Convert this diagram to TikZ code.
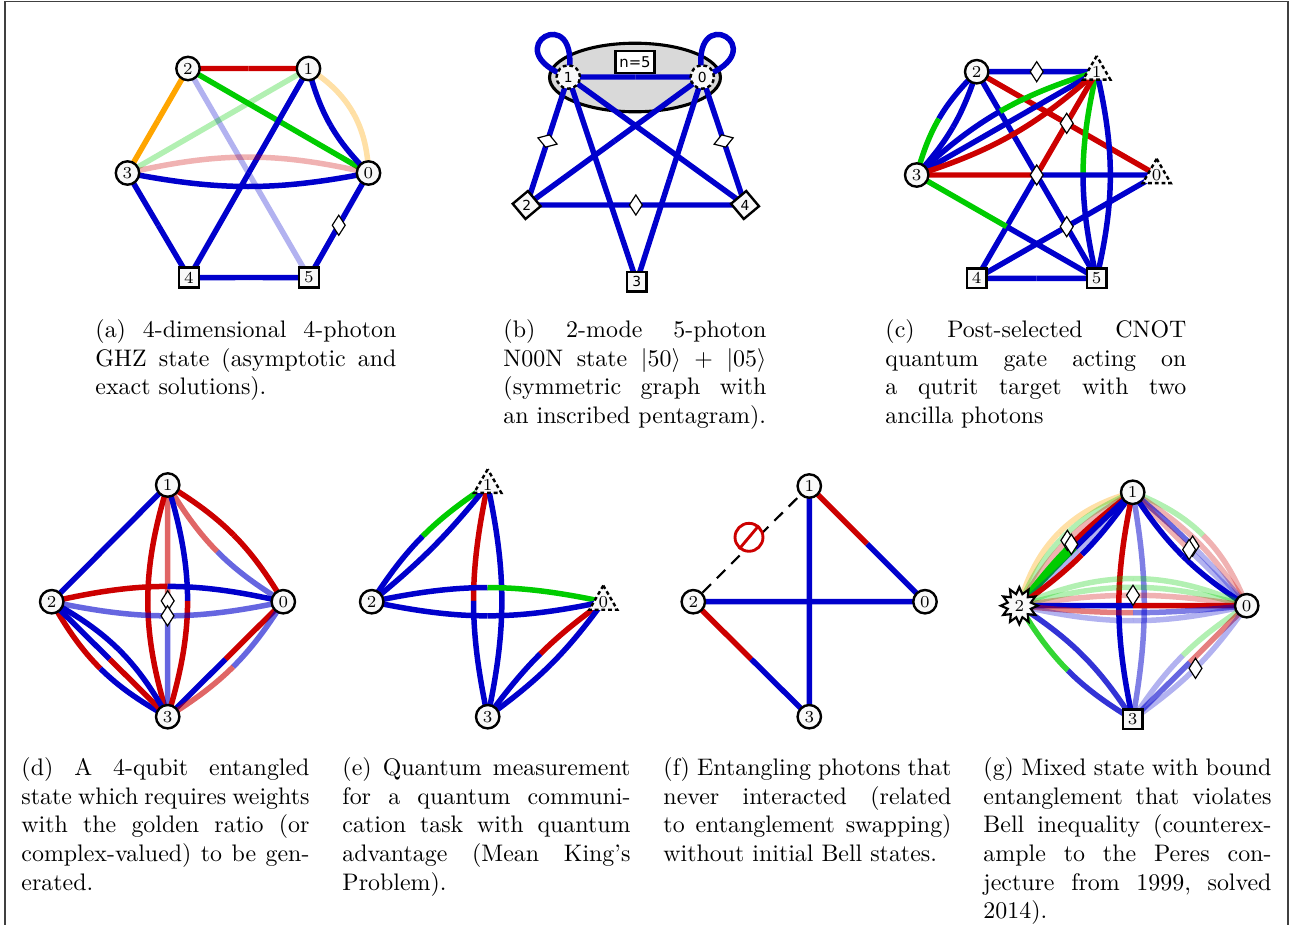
\documentclass[tikz,border=0pt]{standalone}
\usepackage{fontspec}
\newfontfamily\dejavu{DejaVu Sans}
\usetikzlibrary{shapes.geometric,calc}
\definecolor{cB}{RGB}{0,0,204}
\definecolor{cR}{RGB}{204,0,0}
\definecolor{cG}{RGB}{0,204,0}
\definecolor{cO}{RGB}{255,165,0}
\definecolor{nfill}{RGB}{249,249,249}
\definecolor{ellfill}{RGB}{217,217,217}
\pgfdeclarelayer{under}
\pgfdeclarelayer{edges}
\pgfsetlayers{under,edges,main}
\newcommand\nf{\fontsize{7}{8}\selectfont}
\newcommand\nfd{\dejavu\fontsize{5.8}{7}\selectfont}
\newcommand\cw{120pt}
\newcommand\jl[1]{\makebox[\cw][s]{\frenchspacing\spaceskip=3.33pt plus 1fil minus 1pt\relax #1}\par}
% two-coloured (possibly bent) edge: from, to, bend (left>0), style of first half, style of second half
\newcommand\edg[5]{%
  \pgfmathsetmacro\edgpos{#3}%
  \pgfmathsetmacro\edgneg{-(#3)}%
  \coordinate (ka) at ($(#1.center)!0.3915!\edgpos:(#2.center)$);
  \coordinate (kb) at ($(#2.center)!0.3915!\edgneg:(#1.center)$);
  \coordinate (km) at ($0.125*(#1.center)+0.375*(ka)+0.375*(kb)+0.125*(#2.center)$);
  \coordinate (kp) at ($(#1.center)!0.5!(ka)$);
  \coordinate (kq) at ($0.25*(#1.center)+0.5*(ka)+0.25*(kb)$);
  \coordinate (kr) at ($0.25*(ka)+0.5*(kb)+0.25*(#2.center)$);
  \coordinate (ks) at ($(kb)!0.5!(#2.center)$);
  \draw[edge,#4] (#1.center) .. controls (kp) and (kq) .. (km);
  \draw[edge,#5] (km) .. controls (kr) and (ks) .. (#2.center);
}
\tikzset{
  edge/.style={line width=2.3pt},
  eB/.style={draw=cB}, eR/.style={draw=cR}, eG/.style={draw=cG}, eO/.style={draw=cO},
  eB3/.style={draw=cB,draw opacity=0.3}, eR3/.style={draw=cR,draw opacity=0.3},
  eG3/.style={draw=cG,draw opacity=0.3}, eO3/.style={draw=cO,draw opacity=0.35},
  eB5/.style={draw=cB,draw opacity=0.5}, eR5/.style={draw=cR,draw opacity=0.5},
  eB6/.style={draw=cB,draw opacity=0.6}, eR6/.style={draw=cR,draw opacity=0.6},
  eB8/.style={draw=cB,draw opacity=0.8}, eG8/.style={draw=cG,draw opacity=0.8},
  vc/.style={circle, draw, line width=1pt, fill=nfill, minimum size=9.8pt, inner sep=0pt, font=\nf},
  vcd/.style={vc, dash pattern=on 1.6pt off 1.2pt, font=\nfd},
  vs/.style={rectangle, draw, line width=1pt, fill=nfill, minimum size=8.3pt, inner sep=0pt, font=\nf},
  vt/.style={regular polygon, regular polygon sides=3, draw, line width=1pt, dash pattern=on 1.6pt off 1.2pt, fill=nfill, minimum size=11.6pt, inner sep=0pt, font=\nf},
  vstar/.style={star, star points=12, star point ratio=1.55, draw, line width=0.9pt, fill=nfill, minimum size=15.5pt, inner sep=0pt, font=\nf},
  dia/.style={diamond, draw, line width=0.5pt, fill=white, minimum width=5.6pt, minimum height=8.6pt, inner sep=0pt},
  capt/.style={anchor=base west, inner sep=0pt},
  frame/.style={draw=black!75, line width=0.55pt}
}
\begin{document}
\begin{tikzpicture}[x=0.4184pt,y=-0.4184pt]
\useasboundingbox (0,0) rectangle (1299,925);
\draw[frame] (5,925) -- (5,1.5) -- (1288,1.5) -- (1288,925);

% ---------------- nodes ----------------
% (a)
\node[vc] (a2) at (188,68.5) {2};
\node[vc] (a1) at (308.5,68.5) {1};
\node[vc] (a3) at (127.5,173) {3};
\node[vc] (a0) at (368.5,173) {0};
\node[vs] (a4) at (189,277.5) {4};
\node[vs] (a5) at (309,277.5) {5};
% (b)
\begin{pgfonlayer}{under}
\node[ellipse, draw, line width=1.3pt, fill=ellfill, minimum width=71.5pt, minimum height=28.7pt, inner sep=0pt] (bel) at (635,77.5) {};
\end{pgfonlayer}
\node[vcd] (b1) at (568.3,77) {1};
\node[vcd] (b0) at (702.3,77) {0};
\node[vs, rotate=40] (b2) at (526.7,205) {};
\node[font=\nfd, inner sep=0pt] (b2l) at (b2.center) {2};
\node[vs, rotate=40] (b4) at (745,205) {};
\node[font=\nfd, inner sep=0pt] (b4l) at (b4.center) {4};
\node[vs, font=\nfd] (b3) at (636.7,281.7) {3};
\node[draw, fill=white, line width=0.9pt, inner xsep=1.6pt, inner ysep=2.4pt, font=\dejavu\fontsize{6.2}{7}\selectfont] (bn) at (635,62) {n=5};
% (c)
\node[vc] (c2) at (976.7,71.7) {2};
\node[vt] (c1) at (1096.7,71.7) {1};
\node[vc] (c3) at (916.7,175) {3};
\node[vt] (c0) at (1156.7,175) {0};
\node[vs] (c4) at (976.7,278.3) {4};
\node[vs] (c5) at (1096.7,278.3) {5};
% (d)
\node[vc] (d1) at (167.7,485) {1};
\node[vc] (d2) at (51.7,601.7) {2};
\node[vc] (d0) at (283.3,601.7) {0};
\node[vc] (d3) at (167.7,716.7) {3};
% (e)
\node[vt] (e1) at (487.7,485) {1};
\node[vc] (e2) at (371.7,601.7) {2};
\node[vt] (e0) at (603.3,601.7) {0};
\node[vc] (e3) at (487.7,716.7) {3};
% (f)
\node[vc] (f1) at (809.3,486) {1};
\node[vc] (f2) at (693.3,601.7) {2};
\node[vc] (f0) at (925,601.7) {0};
\node[vc] (f3) at (809.3,716.7) {3};
\node[circle, draw=cR, line width=1.2pt, fill=white, minimum size=11.7pt, inner sep=0pt] (fx) at (749,537.3) {};
\draw[cR, line width=1.2pt] (fx.230) -- (fx.50);
% (g)
\node[vc] (g1) at (1132.7,492.3) {1};
\node[vstar] (g2) at (1019.3,605.7) {2};
\node[vc] (g0) at (1246.7,605.7) {0};
\node[vs] (g3) at (1132.7,719.3) {3};

% ---------------- edges ----------------
\begin{pgfonlayer}{edges}
% (a)
\edg{a2}{a1}{0}{eR}{eR}
\edg{a2}{a0}{0}{eG}{eG}
\edg{a2}{a3}{0}{eO}{eO}
\edg{a2}{a5}{0}{eB3}{eB3}
\edg{a1}{a3}{0}{eG3}{eG3}
\edg{a1}{a4}{0}{eB}{eB}
\edg{a1}{a0}{-15}{eB}{eB}
\edg{a1}{a0}{28}{eO3}{eO3}
\edg{a3}{a0}{13}{eR3}{eR3}
\edg{a3}{a0}{-11}{eB}{eB}
\edg{a3}{a4}{0}{eB}{eB}
\edg{a4}{a5}{0}{eB}{eB}
\edg{a0}{a5}{0}{eB}{eB}
\coordinate (ad1) at (km);
% (b)
\edg{b1}{b0}{0}{eB}{eB}
\edg{b1}{b2}{0}{eB}{eB}
\edg{b1}{b3}{0}{eB}{eB}
\edg{b1}{b4}{0}{eB}{eB}
\edg{b0}{b2}{0}{eB}{eB}
\edg{b0}{b3}{0}{eB}{eB}
\edg{b0}{b4}{0}{eB}{eB}
\edg{b2}{b4}{0}{eB}{eB}
\draw[edge,eB] (b1.center) .. controls +(80:34pt) and +(160:34pt) .. (b1.center);
\draw[edge,eB] (b0.center) .. controls +(100:34pt) and +(20:34pt) .. (b0.center);
% (c)
\edg{c2}{c1}{0}{eB}{eB}
\coordinate (cd1) at (km);
\edg{c2}{c0}{0}{eR}{eR}
\coordinate (cd2) at (km);
\edg{c2}{c5}{0}{eB}{eB}
\edg{c2}{c3}{-15}{eB}{eG}
\edg{c2}{c3}{12}{eB}{eB}
\edg{c1}{c3}{-13}{eG}{eB}
\edg{c1}{c3}{0}{eB}{eB}
\edg{c1}{c3}{12}{eR}{eR}
\edg{c1}{c5}{-13}{eG}{eB}
\edg{c1}{c5}{13}{eB}{eB}
\edg{c1}{c4}{0}{eR}{eB}
\edg{c3}{c0}{0}{eR}{eB}
\coordinate (cd3) at (km);
\edg{c3}{c5}{0}{eG}{eB}
\edg{c4}{c0}{0}{eB}{eB}
\coordinate (cd4) at (km);
\edg{c4}{c5}{0}{eB}{eB}
% (d)
\edg{d1}{d2}{0}{eB}{eB}
\edg{d1}{d0}{14}{eR}{eR}
\edg{d1}{d0}{-14}{eR6}{eB6}
\edg{d1}{d3}{-17}{eR}{eR}
\edg{d1}{d3}{0}{eR6}{eB6}
\coordinate (dd1) at (km);
\edg{d1}{d3}{17}{eB}{eR}
\edg{d2}{d0}{13}{eR}{eB}
\edg{d2}{d0}{-12}{eB6}{eB6}
\coordinate (dd2) at (km);
\edg{d2}{d3}{-16}{eR}{eB}
\edg{d2}{d3}{0}{eB}{eR}
\edg{d2}{d3}{16}{eB}{eB}
\edg{d0}{d3}{0}{eR}{eB}
\edg{d0}{d3}{13}{eB6}{eR6}
% (e)
\edg{e1}{e2}{-12}{eG}{eB}
\edg{e1}{e2}{6}{eB}{eB}
\edg{e1}{e3}{-12}{eR}{eB}
\edg{e1}{e3}{12}{eB}{eB}
\edg{e2}{e0}{12}{eB}{eG}
\edg{e2}{e0}{-12}{eB}{eB}
\edg{e0}{e3}{-9}{eR}{eB}
\edg{e0}{e3}{9}{eB}{eB}
% (f)
\draw[black, line width=0.9pt, dash pattern=on 5pt off 3.5pt] (f2) -- (f1);
\edg{f1}{f0}{0}{eR}{eB}
\edg{f1}{f3}{0}{eB}{eB}
\edg{f2}{f0}{0}{eB}{eB}
\edg{f2}{f3}{0}{eR}{eB}
% (g)
\edg{g1}{g2}{-30}{eO3}{eO3}
\edg{g1}{g2}{-22}{eG3}{eG3}
\edg{g1}{g2}{-15}{eR3}{eR3}
\coordinate (gd1) at (km);
\edg{g1}{g2}{-8}{eR}{eG}
\coordinate (gd2) at (km);
\edg{g1}{g2}{-2}{eB}{eG}
\edg{g1}{g2}{4}{eB3}{eB3}
\edg{g1}{g2}{10}{eB}{eR}
\edg{g1}{g0}{24}{eG3}{eR3}
\edg{g1}{g0}{13}{eR3}{eR3}
\edg{g1}{g0}{5}{eB6}{eB3}
\coordinate (gd3) at (km);
\edg{g1}{g0}{-1}{eR3}{eB3}
\coordinate (gd4) at (km);
\edg{g1}{g0}{-12}{eB}{eB}
\edg{g1}{g3}{-12}{eR}{eB}
\edg{g1}{g3}{10}{eB5}{eB5}
\edg{g2}{g0}{24}{eG3}{eG3}
\edg{g2}{g0}{16}{eG3}{eG3}
\edg{g2}{g0}{9}{eR3}{eR3}
\coordinate (gd5) at (km);
\edg{g2}{g0}{0}{eB}{eR}
\edg{g2}{g0}{-6}{eR5}{eB5}
\edg{g2}{g0}{-13}{eB3}{eB3}
\edg{g2}{g3}{-14}{eG8}{eB8}
\edg{g2}{g3}{12}{eB8}{eB8}
\edg{g0}{g3}{-12}{eG3}{eB3}
\edg{g0}{g3}{0}{eR5}{eB6}
\edg{g0}{g3}{10}{eB3}{eB3}
\coordinate (gd6) at (km);
\end{pgfonlayer}

% ---------------- diamonds ----------------
\node[dia] (adA) at (ad1) {};
\path (b1.center) -- (b2.center) node[dia, sloped, midway] (bdA) {};
\path (b0.center) -- (b4.center) node[dia, sloped, midway] (bdB) {};
\path (b2.center) -- (b4.center) node[dia, sloped, midway] (bdC) {};
\node[dia] (cdA) at (cd1) {};
\node[dia] (cdB) at (cd2) {};
\node[dia] (cdC) at (cd3) {};
\node[dia] (cdD) at (cd4) {};
\node[dia] (ddA) at (dd1) {};
\node[dia] (ddB) at (dd2) {};
\node[dia] (gdA) at (gd1) {};
\node[dia] (gdB) at (gd2) {};
\node[dia] (gdC) at (gd3) {};
\node[dia] (gdD) at (gd4) {};
\node[dia] (gdE) at (gd5) {};
\node[dia] (gdF) at (gd6) {};

% ---------------- captions ----------------
\renewcommand\cw{125.9pt}
\node[capt, text width=\cw] (capa) at (95,337.5) {\jl{(a) 4-dimensional 4-photon}\jl{GHZ state (asymptotic and}exact solutions).};
\renewcommand\cw{110pt}
\node[capt, text width=\cw] (capb) at (503,337.5) {\jl{(b) 2-mode 5-photon}\jl{N00N state $|50\rangle$ + $|05\rangle$}\jl{(symmetric graph with}an inscribed pentagram).};
\renewcommand\cw{125.9pt}
\node[capt, text width=\cw] (capc) at (885,337.5) {\jl{(c) Post-selected CNOT}\jl{quantum gate acting on}\jl{a qutrit target with two}ancilla photons};
\renewcommand\cw{120.5pt}
\node[capt, text width=\cw] (capd) at (21,775.5) {\jl{(d) A 4-qubit entangled}\jl{state which requires weights}\jl{with the golden ratio (or}\jl{complex-valued) to be gen-}erated.};
\node[capt, text width=\cw] (cape) at (342,775.5) {\jl{(e) Quantum measurement}\jl{for a quantum communi-}\jl{cation task with quantum}\jl{advantage (Mean King's}Problem).};
\node[capt, text width=\cw] (capf) at (663,775.5) {\jl{(f) Entangling photons that}\jl{never interacted (related}\jl{to entanglement swapping)}without initial Bell states.};
\node[capt, text width=\cw] (capg) at (983,775.5) {\jl{(g) Mixed state with bound}\jl{entanglement that violates}\jl{Bell inequality (counterex-}\jl{ample to the Peres con-}\jl{jecture from 1999, solved}2014).};
\end{tikzpicture}
\end{document}
